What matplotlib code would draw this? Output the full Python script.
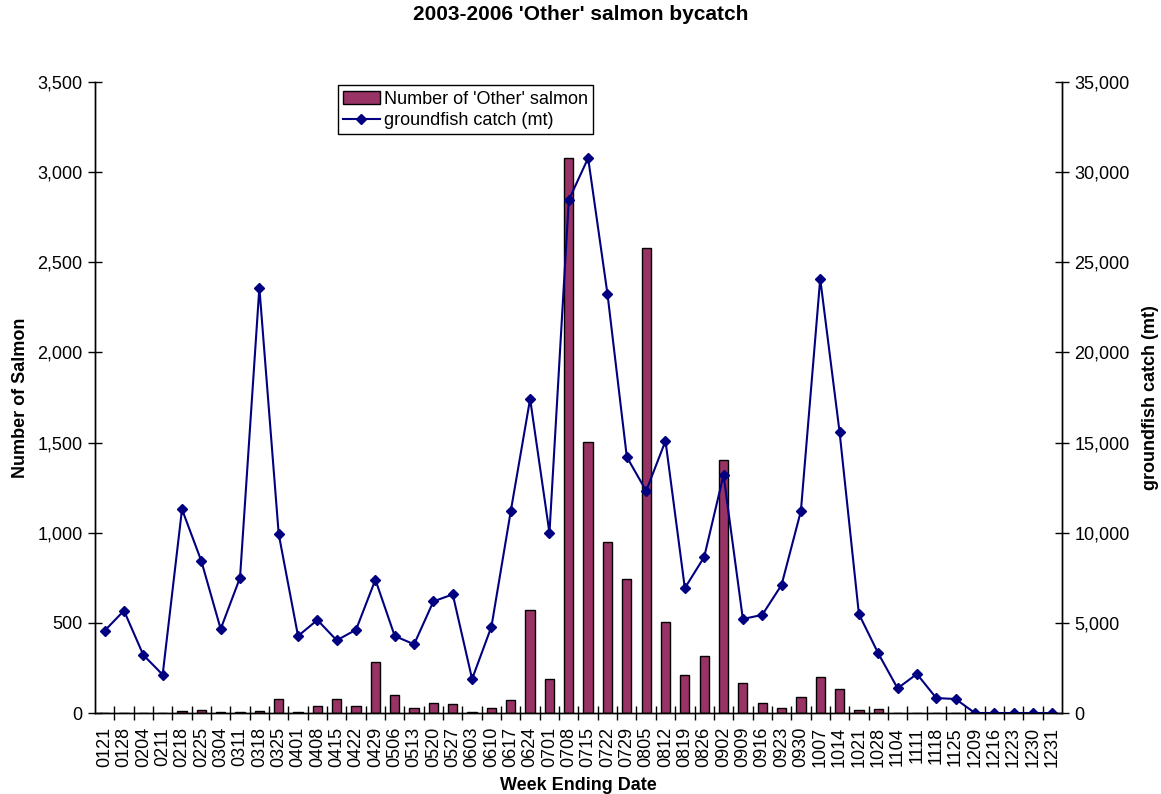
import matplotlib.pyplot as plt
from matplotlib.ticker import FuncFormatter, FixedLocator
import numpy as np

plt.rcParams['font.family'] = ['Liberation Sans', 'DejaVu Sans']

weeks = ['0121', '0128', '0204', '0211', '0218', '0225', '0304', '0311', '0318', '0325',
         '0401', '0408', '0415', '0422', '0429', '0506', '0513', '0520', '0527', '0603',
         '0610', '0617', '0624', '0701', '0708', '0715', '0722', '0729', '0805', '0812',
         '0819', '0826', '0902', '0909', '0916', '0923', '0930', '1007', '1014', '1021',
         '1028', '1104', '1111', '1118', '1125', '1209', '1216', '1223', '1230', '1231']

salmon = [2, 0, 0, 0, 10, 15, 5, 8, 12, 76,
          3, 39, 80, 39, 281, 102, 30, 54, 50, 3,
          30, 72, 570, 187, 3078, 1503, 950, 743, 2580, 505,
          209, 318, 1405, 165, 55, 28, 87, 202, 133, 18,
          22, 0, 0, 0, 0, 0, 0, 0, 0, 0]

groundfish = [4565, 5675, 3217, 2125, 11300, 8430, 4660, 7505, 23590, 9930,
              4270, 5160, 4030, 4620, 7395, 4270, 3810, 6190, 6580, 1887,
              4790, 11200, 17420, 9990, 28450, 30780, 23240, 14200, 12320, 15090,
              6930, 8650, 13200, 5217, 5440, 7100, 11200, 24080, 15590, 5490,
              3310, 1370, 2165, 830, 777, 0, 0, 0, 0, 0]

x = np.arange(len(weeks))
fs = 13

fig = plt.figure(figsize=(11.61, 7.94), dpi=100)
ax = fig.add_axes([0.0818, 0.102, 0.8329, 0.7948])
ax2 = ax.twinx()

bars = ax.bar(x, salmon, width=0.48, color='#993366', edgecolor='black', linewidth=1,
              label="Number of 'Other' salmon", zorder=2)
line, = ax2.plot(x, groundfish, color='#000080', marker='D', markersize=5.5, linewidth=1.5,
                 label='groundfish catch (mt)')

ax.set_xlim(-0.5, len(weeks) - 0.5)
ax.set_ylim(0, 3500)
ax2.set_ylim(0, 35000)
ax.set_yticks(np.arange(0, 3501, 500))
ax2.set_yticks(np.arange(0, 35001, 5000))
comma = FuncFormatter(lambda v, p: f'{int(v):,}')
ax.yaxis.set_major_formatter(comma)
ax2.yaxis.set_major_formatter(comma)

ax.set_xticks(x)
ax.set_xticklabels(weeks, rotation=90, fontsize=fs)
ax.tick_params(axis='x', length=0, pad=10)
ax.xaxis.set_minor_locator(FixedLocator(np.arange(0.5, len(weeks) - 0.5, 1)))
ax.tick_params(axis='x', which='minor', direction='inout', length=10, width=1)
ax.tick_params(axis='y', direction='inout', length=10, width=1, labelsize=fs, pad=4)
ax2.tick_params(axis='y', direction='inout', length=10, width=1, labelsize=fs, pad=4)

for a in (ax, ax2):
    a.spines['top'].set_visible(False)
    for s in ('left', 'right', 'bottom'):
        a.spines[s].set_linewidth(1)

ax.set_xlabel('Week Ending Date', fontsize=fs, fontweight='bold', labelpad=7)
ax.set_ylabel('Number of Salmon', fontsize=fs, fontweight='bold', labelpad=6)
ax2.set_ylabel('groundfish catch (mt)', fontsize=fs, fontweight='bold', labelpad=9)
fig.text(0.5, 1 - 15 / 794, "2003-2006 'Other' salmon bycatch", fontsize=15,
         fontweight='bold', ha='center', va='center')

leg = ax.legend([bars, line], [bars.get_label(), line.get_label()],
                loc='upper left', bbox_to_anchor=(0.2513, 0.995), borderaxespad=0,
                fontsize=fs, frameon=True, fancybox=False, edgecolor='black',
                framealpha=1, borderpad=0.3, handlelength=2.0, handletextpad=0.25,
                labelspacing=0.25)
leg.get_frame().set_linewidth(1)
leg.remove()
ax2.add_artist(leg)

fig.savefig('out.png', dpi=100)
